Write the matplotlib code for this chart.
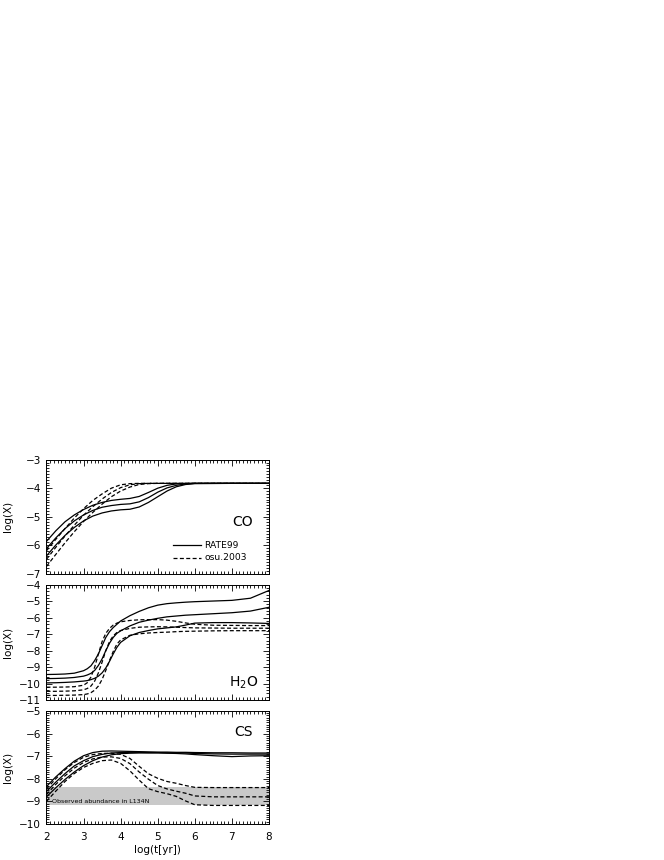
import matplotlib
matplotlib.use("Agg")
import matplotlib.pyplot as plt
from matplotlib.ticker import MultipleLocator

plt.rcParams['font.family'] = ['DejaVu Sans']
plt.rcParams['mathtext.default'] = 'regular'

# ---------------- data ----------------
x_co = [2.0, 2.25, 2.5, 2.75, 3.0, 3.25, 3.5, 3.75, 4.0, 4.25, 4.5, 4.75, 5.0,
        5.25, 5.5, 5.75, 6.0, 7.0, 8.0]
co_rate1 = [-5.87, -5.50, -5.18, -4.94, -4.75, -4.60, -4.50, -4.43, -4.39, -4.36,
            -4.29, -4.15, -4.00, -3.90, -3.85, -3.835, -3.83, -3.83, -3.83]
co_rate2 = [-6.12, -5.75, -5.42, -5.15, -4.94, -4.78, -4.67, -4.61, -4.57, -4.55,
            -4.48, -4.33, -4.14, -3.99, -3.90, -3.85, -3.83, -3.83, -3.83]
co_rate3 = [-6.38, -6.00, -5.66, -5.38, -5.15, -4.98, -4.87, -4.80, -4.76, -4.74,
            -4.66, -4.50, -4.30, -4.10, -3.95, -3.87, -3.84, -3.83, -3.83]
co_osu1 = [-6.20, -5.80, -5.42, -5.05, -4.72, -4.43, -4.20, -4.00, -3.88, -3.84,
           -3.83, -3.83, -3.83, -3.83, -3.83, -3.83, -3.83, -3.83, -3.83]
co_osu2 = [-6.50, -6.08, -5.68, -5.30, -4.95, -4.65, -4.38, -4.15, -3.98, -3.88,
           -3.84, -3.83, -3.83, -3.83, -3.83, -3.83, -3.83, -3.83, -3.83]
co_osu3 = [-6.75, -6.33, -5.92, -5.53, -5.17, -4.85, -4.56, -4.30, -4.10, -3.96,
           -3.87, -3.84, -3.83, -3.83, -3.83, -3.83, -3.83, -3.83, -3.83]

x_h2o = [2.0, 2.25, 2.5, 2.75, 3.0, 3.1, 3.2, 3.3, 3.4, 3.5, 3.6, 3.7, 3.8, 3.9,
         4.0, 4.25, 4.5, 4.75, 5.0, 5.25, 5.5, 5.75, 6.0, 6.5, 7.0, 7.5, 8.0]
h2o_rate1 = [-9.45, -9.44, -9.42, -9.37, -9.22, -9.10, -8.92, -8.60, -8.20, -7.70,
             -7.20, -6.85, -6.60, -6.40, -6.20, -5.88, -5.62, -5.40, -5.24, -5.15,
             -5.10, -5.06, -5.03, -4.99, -4.95, -4.82, -4.35]
h2o_rate2 = [-9.70, -9.69, -9.67, -9.63, -9.55, -9.48, -9.38, -9.20, -8.90, -8.50,
             -8.00, -7.55, -7.20, -6.95, -6.80, -6.50, -6.28, -6.15, -6.04, -5.95,
             -5.90, -5.85, -5.82, -5.76, -5.70, -5.60, -5.37]
h2o_rate3 = [-9.96, -9.95, -9.93, -9.90, -9.85, -9.82, -9.76, -9.68, -9.55, -9.35,
             -9.05, -8.65, -8.20, -7.80, -7.50, -7.10, -6.90, -6.78, -6.68, -6.62,
             -6.56, -6.45, -6.33, -6.30, -6.30, -6.32, -6.35]
h2o_osu1 = [-10.22, -10.22, -10.21, -10.19, -10.10, -9.95, -9.60, -9.00, -8.20, -7.45,
            -6.95, -6.65, -6.45, -6.33, -6.25, -6.17, -6.13, -6.12, -6.12, -6.15,
            -6.22, -6.32, -6.40, -6.46, -6.47, -6.48, -6.48]
h2o_osu2 = [-10.47, -10.47, -10.46, -10.44, -10.38, -10.30, -10.15, -9.85, -9.35, -8.70,
            -8.00, -7.45, -7.10, -6.90, -6.78, -6.65, -6.58, -6.56, -6.55, -6.56,
            -6.58, -6.60, -6.62, -6.63, -6.64, -6.64, -6.64]
h2o_osu3 = [-10.72, -10.72, -10.71, -10.70, -10.67, -10.63, -10.55, -10.40, -10.15, -9.75,
            -9.20, -8.60, -8.05, -7.60, -7.35, -7.07, -6.98, -6.93, -6.90, -6.88,
            -6.85, -6.83, -6.82, -6.80, -6.79, -6.79, -6.79]

x_cs = [2.0, 2.25, 2.5, 2.75, 3.0, 3.25, 3.5, 3.75, 4.0, 4.25, 4.5, 4.75, 5.0,
        5.25, 5.5, 5.75, 6.0, 6.5, 7.0, 7.5, 8.0]
cs_rate1 = [-8.34, -7.92, -7.55, -7.22, -6.98, -6.84, -6.78, -6.77, -6.78, -6.79,
            -6.80, -6.81, -6.82, -6.82, -6.83, -6.83, -6.84, -6.85, -6.85, -6.86, -6.86]
cs_rate2 = [-8.56, -8.15, -7.77, -7.43, -7.20, -7.02, -6.92, -6.86, -6.84, -6.83,
            -6.83, -6.84, -6.84, -6.85, -6.85, -6.86, -6.88, -6.90, -6.91, -6.91, -6.91]
cs_rate3 = [-8.80, -8.40, -8.03, -7.70, -7.42, -7.20, -7.04, -6.94, -6.89, -6.87,
            -6.86, -6.86, -6.86, -6.87, -6.88, -6.90, -6.93, -6.98, -7.02, -6.99, -6.98]
cs_osu1 = [-8.45, -8.00, -7.60, -7.28, -7.05, -6.93, -6.88, -6.87, -6.92, -7.10,
           -7.45, -7.78, -7.98, -8.12, -8.20, -8.30, -8.38, -8.39, -8.39, -8.39, -8.39]
cs_osu2 = [-8.70, -8.25, -7.87, -7.53, -7.28, -7.12, -7.04, -7.03, -7.10, -7.33,
           -7.70, -8.02, -8.30, -8.45, -8.55, -8.64, -8.76, -8.80, -8.80, -8.80, -8.80]
cs_osu3 = [-9.00, -8.55, -8.12, -7.77, -7.50, -7.32, -7.20, -7.17, -7.32, -7.65,
           -8.06, -8.44, -8.57, -8.66, -8.78, -8.98, -9.15, -9.18, -9.18, -9.18, -9.18]

obs_band = (-9.15, -8.35)   # observed CS abundance in L134N

panels = [
    dict(x=x_co, rate=[co_rate1, co_rate2, co_rate3], osu=[co_osu1, co_osu2, co_osu3],
         ylim=(-7, -3), label='CO', lab_xy=(7.57, -5.2),
         pos=[0.0700, 0.3331, 0.3351, 0.1323], yminor=0.1),
    dict(x=x_h2o, rate=[h2o_rate1, h2o_rate2, h2o_rate3], osu=[h2o_osu1, h2o_osu2, h2o_osu3],
         ylim=(-11, -4), label='H$_2$O', lab_xy=(7.7, -9.95),
         pos=[0.0700, 0.1860, 0.3351, 0.1341], yminor=0.2),
    dict(x=x_cs, rate=[cs_rate1, cs_rate2, cs_rate3], osu=[cs_osu1, cs_osu2, cs_osu3],
         ylim=(-10, -5), label='CS', lab_xy=(7.57, -5.93),
         pos=[0.0700, 0.0419, 0.3351, 0.1314], yminor=0.1),
]

fig = plt.figure(figsize=(6.64, 8.6), dpi=100)
dash = (0, (3.2, 1.9))
lw = 0.9

for i, p in enumerate(panels):
    ax = fig.add_axes(p['pos'])
    if p['label'] == 'CS':
        ax.axhspan(obs_band[0], obs_band[1], color='#c9c9c9', lw=0, zorder=0)
        ax.text(2.15, -9.0, 'Observed abundance in L134N', fontsize=4.5,
                va='center', ha='left', zorder=3)
    for y in p['rate']:
        ax.plot(p['x'], y, color='black', lw=lw, ls='-')
    for y in p['osu']:
        ax.plot(p['x'], y, color='black', lw=lw, ls=dash)
    ax.set_xlim(2, 8)
    ax.set_ylim(*p['ylim'])
    ax.xaxis.set_major_locator(MultipleLocator(1))
    ax.xaxis.set_minor_locator(MultipleLocator(0.1))
    ax.yaxis.set_major_locator(MultipleLocator(1))
    ax.yaxis.set_minor_locator(MultipleLocator(p['yminor']))
    ax.tick_params(which='both', direction='in', top=True, right=True,
                   width=0.6, labelsize=7.5)
    ax.tick_params(which='major', length=4)
    ax.tick_params(which='minor', length=2)
    ax.tick_params(axis='x', pad=6)
    ax.tick_params(axis='y', pad=4)
    for s in ax.spines.values():
        s.set_linewidth(0.7)
    ax.set_ylabel('log(X)', fontsize=7.5)
    ax.yaxis.set_label_coords(-0.15, 0.5)
    ax.text(p['lab_xy'][0], p['lab_xy'][1], p['label'], fontsize=10,
            ha='right', va='center')
    if i < 2:
        ax.set_xticklabels([])
    else:
        ax.set_xlabel('log(t[yr])', fontsize=7.5, labelpad=2)
    if p['label'] == 'CO':
        ax.plot([5.41, 6.18], [-6.0, -6.0], color='black', lw=lw, ls='-')
        ax.plot([5.41, 6.18], [-6.45, -6.45], color='black', lw=lw, ls=dash)
        ax.text(6.25, -6.0, 'RATE99', fontsize=6.6, va='center', ha='left')
        ax.text(6.25, -6.45, 'osu.2003', fontsize=6.6, va='center', ha='left')

fig.savefig('out.png', dpi=100)
